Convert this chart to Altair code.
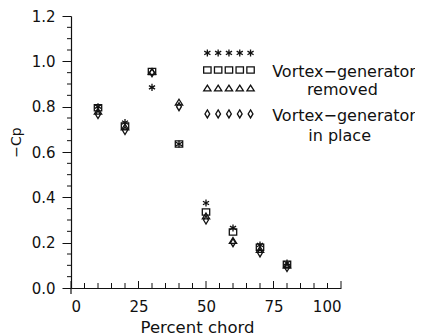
import altair as alt
import pandas as pd

# ---- data ----
chord = [10, 20, 30, 40, 50, 60, 70, 80]
star_vals = [0.80, 0.73, 0.885, 0.635, 0.375, 0.265, 0.19, 0.11]
square_vals = [0.795, 0.715, 0.955, 0.635, 0.335, 0.247, 0.18, 0.105]
triangle_vals = [0.78, 0.71, 0.955, 0.82, 0.318, 0.21, 0.17, 0.10]
diamond_vals = [0.765, 0.695, 0.95, 0.80, 0.30, 0.20, 0.155, 0.09]

series_names = ["star", "square", "triangle", "diamond"]
series_vals = [star_vals, square_vals, triangle_vals, diamond_vals]

y_major = [0.0, 0.2, 0.4, 0.6, 0.8, 1.0, 1.2]
y_minor = [0.05, 0.1, 0.15, 0.25, 0.3, 0.35, 0.45, 0.5, 0.55, 0.65, 0.7, 0.75,
           0.85, 0.9, 0.95, 1.05, 1.1, 1.15]
x_major = [0, 25, 50, 75, 100]
x_minor = [5, 10, 15, 20, 30, 35, 40, 45, 55, 60, 65, 70, 80, 85, 90, 95]

# legend key (drawn inside the plot area)
legend_x = [50.5, 54.5, 58.5, 62.5, 66.5]
legend_rows = {"star": 1.037, "square": 0.962, "triangle": 0.882, "diamond": 0.768}
legend_text = ["Vortex\u2212generator", "removed", "Vortex\u2212generator", "in place"]
legend_text_x = [74.5, 100.5, 74.5, 99.5]
legend_text_y = [0.955, 0.875, 0.757, 0.672]
legend_text_align = ["left", "center", "left", "center"]

shape_paths = [
    "M0,-1L0,1M-0.87,-0.5L0.87,0.5M-0.87,0.5L0.87,-0.5",
    "M-1,-0.85L1,-0.85L1,0.85L-1,0.85Z",
    "M0,-0.75L0.95,0.75L-0.95,0.75Z",
    "M0,-1L0.6,0L0,1L-0.6,0Z",
]
shape_sizes = [50, 64, 70, 100]

rows = []
for name, vals in zip(series_names, series_vals):
    for xv, yv in zip(chord, vals):
        rows.append({"x": xv, "y": yv, "s": name})
for name in series_names:
    for xv in legend_x:
        rows.append({"x": xv, "y": legend_rows[name], "s": name})
pts = pd.DataFrame(rows)

txt = pd.DataFrame({"x": legend_text_x, "y": legend_text_y, "t": legend_text,
                    "a": legend_text_align})

FONT = "DejaVu Sans"
xscale = alt.Scale(domain=[0, 100], nice=False, zero=False)
yscale = alt.Scale(domain=[0, 1.2], nice=False, zero=False)

points = alt.Chart(pts).mark_point(filled=False, strokeWidth=1.3, opacity=1).encode(
    x=alt.X("x:Q", scale=xscale,
            axis=alt.Axis(values=x_major, title="Percent chord", ticks=False,
                          labelPadding=11, grid=False, titleX=126, titleY=44,
                          titleBaseline="alphabetic", titleFontSize=16.5)),
    y=alt.Y("y:Q", scale=yscale,
            axis=alt.Axis(values=y_major, format=".1f", title="\u2212Cp", tickSize=9,
                          labelPadding=7, grid=False, titleX=-51, titleY=126,
                          titleAngle=-90, titleAlign="center", titleBaseline="alphabetic",
                          titleFontSize=14)),
    shape=alt.Shape("s:N", scale=alt.Scale(domain=series_names, range=shape_paths),
                    legend=None),
    size=alt.Size("s:N", scale=alt.Scale(domain=series_names, range=shape_sizes),
                  legend=None),
    stroke=alt.value("#111111"),
)

labels_left = alt.Chart(txt[txt["a"] == "left"]).mark_text(
    align="left", baseline="middle", font=FONT, fontSize=16, color="#111111"
).encode(x=alt.X("x:Q", scale=xscale), y=alt.Y("y:Q", scale=yscale), text="t:N")
labels_center = alt.Chart(txt[txt["a"] == "center"]).mark_text(
    align="center", baseline="middle", font=FONT, fontSize=16, color="#111111"
).encode(x=alt.X("x:Q", scale=xscale), y=alt.Y("y:Q", scale=yscale), text="t:N")

ymin_ticks = alt.Chart(pd.DataFrame({"v": y_minor})).mark_rule(
    color="#111111", strokeWidth=1).encode(
    y=alt.Y("v:Q", scale=yscale), x=alt.value(-4), x2=alt.value(0))
xmin_ticks = alt.Chart(pd.DataFrame({"v": x_minor})).mark_rule(
    color="#111111", strokeWidth=1).encode(
    x=alt.X("v:Q", scale=xscale), y=alt.value(272), y2=alt.value(267))
xmaj_ticks = alt.Chart(pd.DataFrame({"v": x_major})).mark_rule(
    color="#111111", strokeWidth=1).encode(
    x=alt.X("v:Q", scale=xscale), y=alt.value(272), y2=alt.value(265))
zero_tick = alt.Chart(pd.DataFrame({"v": [0]})).mark_rule(
    color="#111111", strokeWidth=1.2).encode(
    x=alt.X("v:Q", scale=xscale), y=alt.value(272), y2=alt.value(278))

chart = alt.layer(points, labels_left, labels_center, ymin_ticks, xmin_ticks,
                  xmaj_ticks, zero_tick).properties(
    width=270, height=272,
    autosize=alt.AutoSizeParams(type="none"),
    padding={"left": 63, "top": 8, "right": 74, "bottom": 47},
).configure_view(stroke=None).configure_axis(
    domainColor="#111111", domainWidth=1.2, tickColor="#111111", tickWidth=1,
    labelFont=FONT, labelFontSize=15, labelColor="#111111",
    titleFont=FONT, titleColor="#111111", titleFontWeight="normal",
)

chart.save("out.html", embed_options={"renderer": "svg", "actions": False})
